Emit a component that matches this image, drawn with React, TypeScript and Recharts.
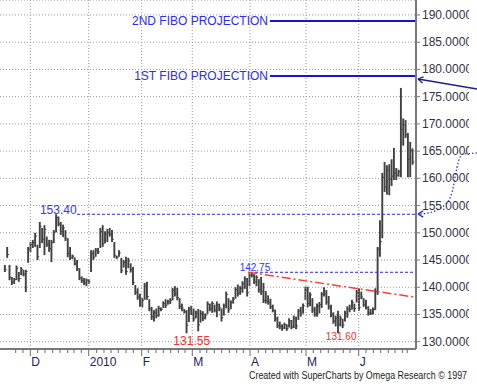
import React from 'react'
import { ComposedChart, Bar, XAxis, YAxis, CartesianGrid, ReferenceLine, ReferenceDot } from 'recharts'

// daily bars, mid Nov 2009 .. late Jun 2010 (trading day index)
const highs = [
  144.1, 147.4, 144.1, 141.9, 141.7, 144.0, 142.8, 143.7, 143.2, 143.2,
  147.4, 148.3, 148.7, 150.0, 147.8, 152.0, 150.9, 151.4, 149.3, 148.7,
  148.7, 150.5, 153.4, 153.0, 152.0, 151.5, 150.5, 149.0, 147.4, 146.0,
  145.5, 145.0, 143.5, 142.0, 141.7, 141.6, 141.5, 146.8, 146.8, 147.2,
  147.2, 150.9, 151.4, 150.3, 150.7, 150.9, 150.5, 148.3, 145.8, 146.8,
  145.4, 145.0, 145.6, 145.4, 144.4, 143.7, 140.4, 139.8, 138.8, 138.0,
  140.8, 141.0, 137.8, 136.4, 135.8, 136.1, 136.6, 136.3, 137.4, 137.8,
  137.7, 138.0, 139.9, 140.2, 139.9, 138.0, 137.0, 136.0, 135.8, 136.4,
  136.6, 136.1, 135.7, 136.0, 135.8, 135.6, 135.2, 137.4, 137.0, 137.4,
  136.8, 137.4, 137.0, 136.1, 137.0, 139.2, 138.0, 137.6, 138.2, 140.0,
  140.5, 140.2, 141.1, 142.0, 141.7, 142.6, 142.75, 142.4, 142.2, 141.5,
  141.9, 140.8, 139.3, 138.5, 137.9, 136.8, 135.9, 134.6, 133.7, 133.2,
  133.5, 133.2, 134.3, 134.0, 134.8, 134.6, 136.0, 136.4, 137.0, 140.1,
  140.1, 139.1, 138.0, 136.4, 137.0, 137.3, 139.1, 140.0, 139.5, 138.4,
  136.8, 135.4, 134.8, 135.7, 134.8, 134.2, 135.7, 136.5, 136.8, 137.7,
  137.0, 139.5, 139.8, 139.2, 138.0, 137.7, 136.5, 136.0, 136.3, 139.8,
  147.4, 152.3, 161.0, 163.0, 162.4, 162.6, 163.5, 165.6, 161.9, 161.6,
  176.6, 171.0, 170.7, 168.3, 166.7, 165.5,
]
const lows = [
  142.8, 145.4, 141.3, 140.4, 140.6, 141.3, 141.0, 142.2, 142.0, 139.1,
  144.5, 146.5, 147.2, 147.4, 145.0, 147.2, 148.1, 145.9, 147.4, 146.5,
  144.6, 148.1, 150.1, 151.2, 149.6, 149.2, 148.5, 145.5, 145.0, 145.2,
  144.0, 143.0, 141.3, 140.8, 140.4, 140.2, 140.6, 142.8, 145.0, 145.6,
  146.1, 147.2, 147.4, 148.1, 148.3, 149.3, 148.3, 145.4, 145.2, 145.6,
  142.6, 143.6, 142.3, 143.5, 142.7, 140.4, 138.6, 137.7, 136.4, 136.3,
  137.7, 137.7, 135.6, 134.0, 133.7, 134.3, 134.6, 135.6, 136.2, 136.2,
  136.8, 136.9, 137.6, 138.3, 137.6, 136.0, 135.6, 135.2, 131.55, 133.6,
  134.9, 133.7, 134.3, 131.9, 133.5, 133.8, 134.1, 135.1, 135.6, 135.3,
  135.4, 134.5, 135.6, 133.7, 134.8, 136.1, 135.3, 136.0, 137.0, 137.9,
  138.3, 138.6, 139.0, 139.7, 138.3, 140.2, 141.8, 140.6, 140.2, 139.0,
  138.6, 137.1, 137.0, 136.8, 136.0, 135.4, 133.7, 132.5, 132.3, 132.0,
  132.3, 132.0, 132.6, 132.3, 132.5, 132.3, 134.0, 134.6, 135.2, 137.7,
  136.3, 136.5, 135.3, 134.6, 134.6, 135.2, 136.2, 138.3, 136.8, 135.9,
  134.5, 133.3, 132.8, 131.6, 132.8, 132.5, 133.7, 134.4, 135.4, 135.9,
  135.5, 137.2, 135.7, 137.8, 136.4, 135.9, 134.8, 134.9, 135.0, 135.8,
  138.6, 145.6, 149.0, 157.5, 157.0, 156.9, 158.6, 159.7, 159.7, 160.3,
  160.2, 166.0, 167.4, 160.2, 160.2, 162.5,
]
const closes = [
  143.2, 146.0, 141.8, 140.9, 141.4, 143.5, 141.6, 143.3, 142.4, 142.9,
  147.0, 147.8, 148.2, 149.4, 145.6, 151.2, 148.8, 150.6, 147.9, 147.1,
  148.2, 150.1, 152.8, 151.6, 150.2, 150.9, 149.0, 146.2, 145.4, 145.7,
  144.3, 143.4, 141.7, 141.2, 140.8, 141.3, 141.0, 146.2, 145.5, 146.8,
  146.5, 150.2, 148.0, 149.8, 150.1, 149.7, 148.8, 145.9, 145.5, 146.3,
  143.1, 144.6, 142.9, 144.8, 143.2, 140.9, 139.1, 138.2, 137.0, 137.6,
  140.2, 138.3, 136.0, 134.6, 135.3, 134.8, 136.1, 135.9, 137.0, 136.7,
  137.3, 137.6, 139.4, 138.8, 138.1, 136.5, 136.2, 135.5, 133.0, 135.9,
  135.3, 134.2, 135.2, 133.1, 135.2, 134.3, 134.9, 136.9, 136.1, 137.0,
  135.8, 136.8, 136.2, 134.4, 136.6, 138.7, 135.9, 137.2, 137.8, 139.6,
  138.9, 139.8, 140.6, 141.5, 139.0, 142.1, 142.2, 141.0, 141.8, 139.6,
  139.2, 137.6, 137.5, 137.2, 136.4, 135.8, 134.2, 133.0, 132.8, 132.5,
  133.1, 132.4, 133.8, 132.7, 134.3, 132.9, 135.6, 135.1, 136.6, 139.5,
  137.0, 138.6, 135.8, 135.1, 136.5, 136.8, 138.7, 138.8, 137.3, 136.4,
  135.0, 133.8, 134.3, 133.2, 134.2, 133.1, 135.2, 136.0, 135.9, 137.2,
  136.1, 139.0, 136.3, 138.2, 136.8, 136.3, 135.3, 135.2, 135.9, 139.2,
  147.0, 148.4, 160.2, 158.4, 161.5, 159.8, 160.4, 161.0, 160.6, 161.2,
  169.0, 169.8, 168.0, 163.5, 165.1, 163.0,
]

const priceTicks = [130, 135, 140, 145, 150, 155, 160, 165, 170, 175, 180, 185, 190]
const monthTicks = [10.86, 35.93, 58.68, 80.39, 105.16, 129.2, 151.82]
const monthLabels = ['D', '2010', 'F', 'M', 'A', 'M', 'J']
const weekTicks = [
  4.59, 7.73, 14.04, 17.17, 20.47, 23.61, 26.91, 29.62, 32.75, 39.36, 42.49, 45.5,
  48.63, 51.94, 55.07, 61.51, 64.81, 67.95, 71.12, 74.39, 77.26, 83.7, 86.58, 89.84,
  93.01, 96.28, 99.45, 102.29, 108.72, 111.9, 114.9, 118.04, 121.17, 124.48, 127.35,
  132.33, 135.51, 138.77, 141.65, 145.21, 148.08, 154.95, 158.09, 161.26, 164.52,
  167.4, 170.53, 172.67,
]

const X_MIN = -2.146
const X_MAX = 176.41
const Y_MIN = 128.66
const Y_MAX = 192.75

// annotation levels
const fibo2 = 188.89
const fibo1 = 178.79
const fiboFrom = 113.75
const decHigh = { day: 22, price: 153.4 }
const aprHigh = { day: 106, price: 142.75 }
const marLow = { day: 78, price: 131.55 }
const mayLow = { day: 143, price: 131.6 }
const trendLine = [{ x: 104.3, y: 142.75 }, { x: X_MAX, y: 138.15 }]
const arrowSolid = [{ x: 202.6, y: 176.41 }, { x: 177.27, y: 178.24 }]
const arrowDotted = [{ x: 202.6, y: 164.65 }, { x: 177.27, y: 153.45 }]

const data = highs.map((h, i) => ({
  day: i,
  high: h,
  low: lows[i],
  close: closes[i],
  range: [lows[i], h],
}))

const FONT = '"Liberation Sans", Arial, sans-serif'
const BLUE = '#2b2bff'
const BAR = '#414141'

const OhlcBar = (props: any) => {
  const { x, y, width, height, payload } = props
  if (x == null || y == null) return null
  const cx = x + width / 2
  const span = payload.high - payload.low
  const cy = span > 0 ? y + ((payload.high - payload.close) / span) * height : y
  return (
    <g>
      <line x1={cx} x2={cx} y1={y} y2={y + Math.max(height, 1)} stroke={BAR} strokeWidth={1.9} />
      <line x1={cx} x2={cx + 1.8} y1={cy} y2={cy} stroke={BAR} strokeWidth={1} />
    </g>
  )
}

const PriceTick = (props: any) => {
  const { x, y, payload } = props
  return (
    <svg x={x} y={y - 9} width={Math.max(0, 469 - x)} height={18}>
      <text x={0} y={13} fontSize={12} fill="#333344" fontFamily={FONT}>
        {Number(payload.value).toFixed(4)}
      </text>
    </svg>
  )
}

const TimeTick = (props: any) => {
  const { x, y, payload } = props
  const m = monthTicks.indexOf(payload.value)
  if (m < 0) {
    return <line x1={x} x2={x} y1={y} y2={y + 4} stroke="#6a6a6a" strokeWidth={1} />
  }
  return (
    <g>
      <line x1={x} x2={x} y1={y} y2={y + 7} stroke="#6a6a6a" strokeWidth={1} />
      <text x={x + 1} y={y + 17} fontSize={12} fill="#24245e" fontFamily={FONT}>
        {monthLabels[m]}
      </text>
    </g>
  )
}

const arrowHead = (tx: number, ty: number, fx: number, fy: number, color: string) => {
  const ang = Math.atan2(fy - ty, fx - tx)
  const len = 6
  return (
    <g stroke={color} strokeWidth={1.3} fill="none">
      <line x1={tx} y1={ty} x2={tx + len * Math.cos(ang + 0.55)} y2={ty + len * Math.sin(ang + 0.55)} />
      <line x1={tx} y1={ty} x2={tx + len * Math.cos(ang - 0.55)} y2={ty + len * Math.sin(ang - 0.55)} />
    </g>
  )
}

const SolidArrow = (props: any) => {
  const { x1, y1, x2, y2 } = props
  return (
    <g>
      <line x1={x1} y1={y1} x2={x2} y2={y2} stroke="#1e1e8c" strokeWidth={1.4} />
      {arrowHead(x2, y2, x1, y1, '#1e1e8c')}
    </g>
  )
}

const CurvedArrow = (props: any) => {
  const { x1, y1, x2, y2 } = props
  const d = `M${x1},${y1} L${x1 - 14},${y1 + 1} C${x1 - 22},${y1 + 4} ${x1 - 21},${y1 + 40} ${x1 - 30},${y1 + 50} C${x1 - 38},${y1 + 58} ${x2 + 11},${y2} ${x2},${y2}`
  return (
    <g>
      <path d={d} fill="none" stroke="#2222ee" strokeWidth={1.2} strokeDasharray="1.5 2" />
      {arrowHead(x2, y2, x2 + 10, y2, '#2222ee')}
    </g>
  )
}

const valueLabel = (text: string, dx: number, dy: number, size: number, color: string) => (p: any) => (
  <text x={p.cx + dx} y={p.cy + dy} textAnchor="middle" fontSize={size} fill={color} fontFamily={FONT}>
    {text}
  </text>
)

export default function App() {
  return (
    <div style={{ position: 'absolute', left: 0, top: 0, width: 477, height: 387, background: '#fff', fontFamily: FONT }}>
      <ComposedChart width={477} height={387} data={data} margin={{ top: 0, right: 0, bottom: 0, left: 0 }}>
        <CartesianGrid vertical={false} stroke="#9a9a9a" strokeDasharray="1 2" />
        {monthTicks.map((m) => (
          <ReferenceLine key={m} x={m} stroke="#9a9a9a" strokeDasharray="1 2" />
        ))}
        <XAxis
          dataKey="day"
          type="number"
          domain={[X_MIN, X_MAX]}
          allowDataOverflow
          ticks={[...weekTicks, ...monthTicks].sort((a, b) => a - b)}
          interval={0}
          tick={<TimeTick />}
          tickLine={false}
          tickSize={0}
          tickMargin={0}
          height={38}
          axisLine={{ stroke: '#7a7a7a', strokeWidth: 2 }}
        />
        <YAxis
          orientation="right"
          type="number"
          domain={[Y_MIN, Y_MAX]}
          allowDataOverflow
          ticks={priceTicks}
          interval={0}
          width={61}
          tickSize={4}
          tickMargin={2}
          tickLine={{ stroke: '#7a7a7a' }}
          axisLine={{ stroke: '#7a7a7a', strokeWidth: 2 }}
          tick={<PriceTick />}
        />
        <Bar dataKey="range" barSize={2} shape={<OhlcBar />} isAnimationActive={false} />

        <ReferenceLine
          segment={[{ x: fiboFrom, y: fibo2 }, { x: X_MAX, y: fibo2 }]}
          stroke="#1414d8"
          strokeWidth={2}
          ifOverflow="visible"
          label={{ value: '2ND FIBO PROJECTION', position: 'left', offset: 2, fill: BLUE, fontSize: 12 }}
        />
        <ReferenceLine
          segment={[{ x: fiboFrom, y: fibo1 }, { x: X_MAX, y: fibo1 }]}
          stroke="#1414d8"
          strokeWidth={2}
          ifOverflow="visible"
          label={{ value: '1ST FIBO PROJECTION', position: 'left', offset: 2, fill: BLUE, fontSize: 12 }}
        />
        <ReferenceLine
          segment={[{ x: 30.9, y: decHigh.price }, { x: X_MAX, y: decHigh.price }]}
          stroke="#2424ff"
          strokeDasharray="3 2"
          ifOverflow="visible"
        />
        <ReferenceLine
          segment={[{ x: 105.16, y: aprHigh.price }, { x: X_MAX, y: aprHigh.price }]}
          stroke="#2424ff"
          strokeDasharray="3 2"
          ifOverflow="visible"
        />
        <ReferenceLine segment={trendLine} stroke="#ff3b3b" strokeWidth={1.5} strokeDasharray="9 3 2 3" ifOverflow="visible" />
        <ReferenceLine segment={arrowSolid} ifOverflow="visible" shape={SolidArrow} />
        <ReferenceLine segment={arrowDotted} ifOverflow="visible" shape={CurvedArrow} />

        <ReferenceDot x={decHigh.day} y={decHigh.price} r={0} shape={valueLabel('153.40', 2, 0, 12, '#3333ff')} />
        <ReferenceDot x={aprHigh.day} y={aprHigh.price} r={0} shape={valueLabel('142.75', 3, -1.5, 10, '#3333ff')} />
        <ReferenceDot x={marLow.day} y={marLow.price} r={0} shape={valueLabel('131.55', 5, 11.5, 12, '#ff2b2b')} />
        <ReferenceDot x={mayLow.day} y={mayLow.price} r={0} shape={valueLabel('131.60', 3, 7.5, 10, '#ff2b2b')} />
      </ComposedChart>
      <div
        style={{
          position: 'absolute',
          left: 249,
          top: 369,
          fontSize: 11,
          lineHeight: '13px',
          whiteSpace: 'nowrap',
          color: '#1a1a1a',
          fontFamily: FONT,
          transform: 'scaleX(0.81)',
          transformOrigin: 'left top',
        }}
      >
        Created with SuperCharts by Omega Research © 1997
      </div>
    </div>
  )
}
